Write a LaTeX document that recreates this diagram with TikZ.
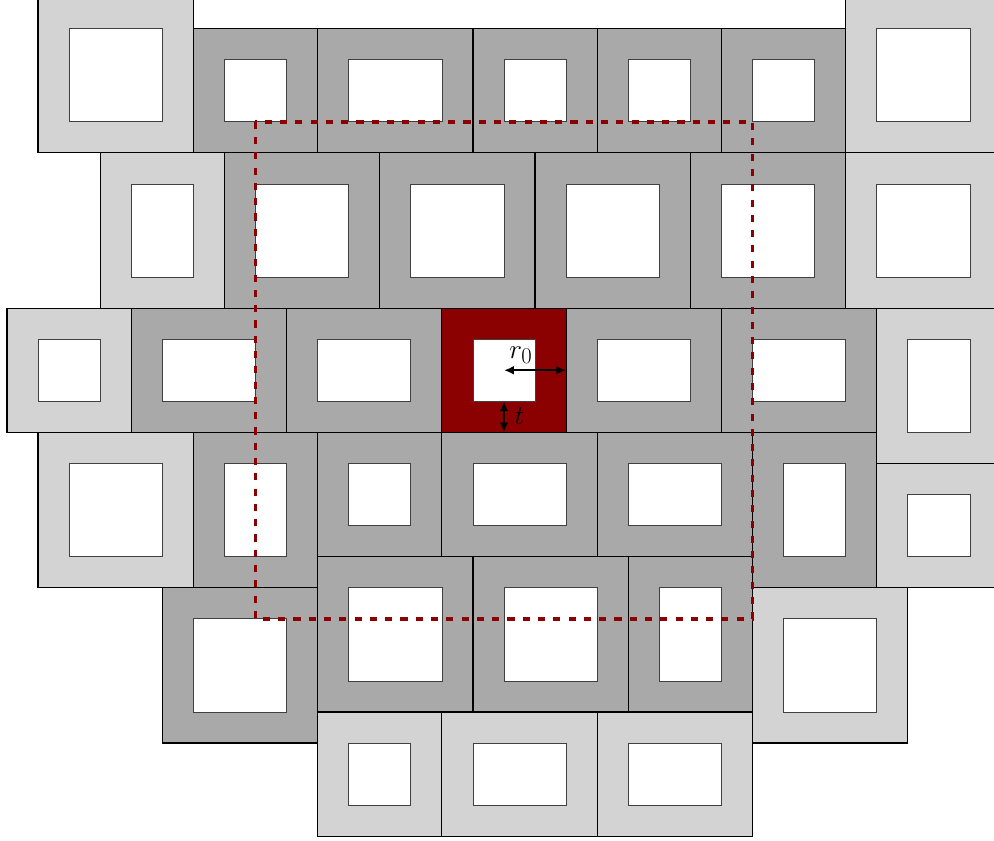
\documentclass[tikz,border=0pt]{standalone}
\usepackage{amsmath,amssymb}
\usetikzlibrary{arrows.meta}
\definecolor{cellL}{HTML}{D3D3D3}\definecolor{cellD}{HTML}{A9A9A9}\definecolor{cellR}{HTML}{8B0000}
\tikzset{>={Latex[length=9pt,width=8pt]},frame/.style={line width=1.1pt,draw=black},hole/.style={line width=.6pt,draw=black!75,fill=white},
window/.style={draw=cellR,line width=3.2pt,dash pattern=on 6.5pt off 7.5pt},dim/.style={line width=1.9pt,<->},lab/.style={font=\Huge,inner sep=0pt}}

\begin{document}
\begin{tikzpicture}
\useasboundingbox (-.225,-27.15) rectangle (31.775,-.08);\clip (-.225,-27.15) rectangle (31.775,-.08);
% cells: left/top/right/bottom/colour
\foreach \a/\b/\c/\d/\col in {1/0/6/5/cellL,6/1/10/5/cellD,10/1/15/5/cellD,15/1/19/5/cellD,19/1/23/5/cellD,23/1/27/5/cellD,27/0/32/5/cellL,
3/5/7/10/cellL,7/5/12/10/cellD,12/5/17/10/cellD,17/5/22/10/cellD,22/5/27/10/cellD,27/5/32/10/cellL,
0/10/4/14/cellL,4/10/9/14/cellD,9/10/14/14/cellD,14/10/18/14/cellR,18/10/23/14/cellD,23/10/28/14/cellD,28/10/32/15/cellL,
1/14/6/19/cellL,6/14/10/19/cellD,10/14/14/18/cellD,14/14/19/18/cellD,19/14/24/18/cellD,24/14/28/19/cellD,28/15/32/19/cellL,
5/19/10/24/cellD,10/18/15/23/cellD,15/18/20/23/cellD,20/18/24/23/cellD,24/19/29/24/cellL,
10/23/14/27/cellL,14/23/19/27/cellL,19/23/24/27/cellL}
{\draw[frame,fill=\col] (\a,-\b) rectangle (\c,-\d);\draw[hole] (\a+1,-\b-1) rectangle (\c-1,-\d+1);}
% observation window
\draw[window] (8,-4) rectangle (24,-20);
% dimensions
\coordinate (rA) at (16,-12);\coordinate (rB) at (18,-12);\coordinate (tA) at (16,-13);\coordinate (tB) at (16,-14);
\draw[dim] (rA)--(rB);\node[lab] (rlab) at (16.54,-11.52){$r_0$};
\draw[dim] (tA)--(tB);\node[lab] (tlab) at (16.5,-13.48){$t$};
\end{tikzpicture}
\end{document}
